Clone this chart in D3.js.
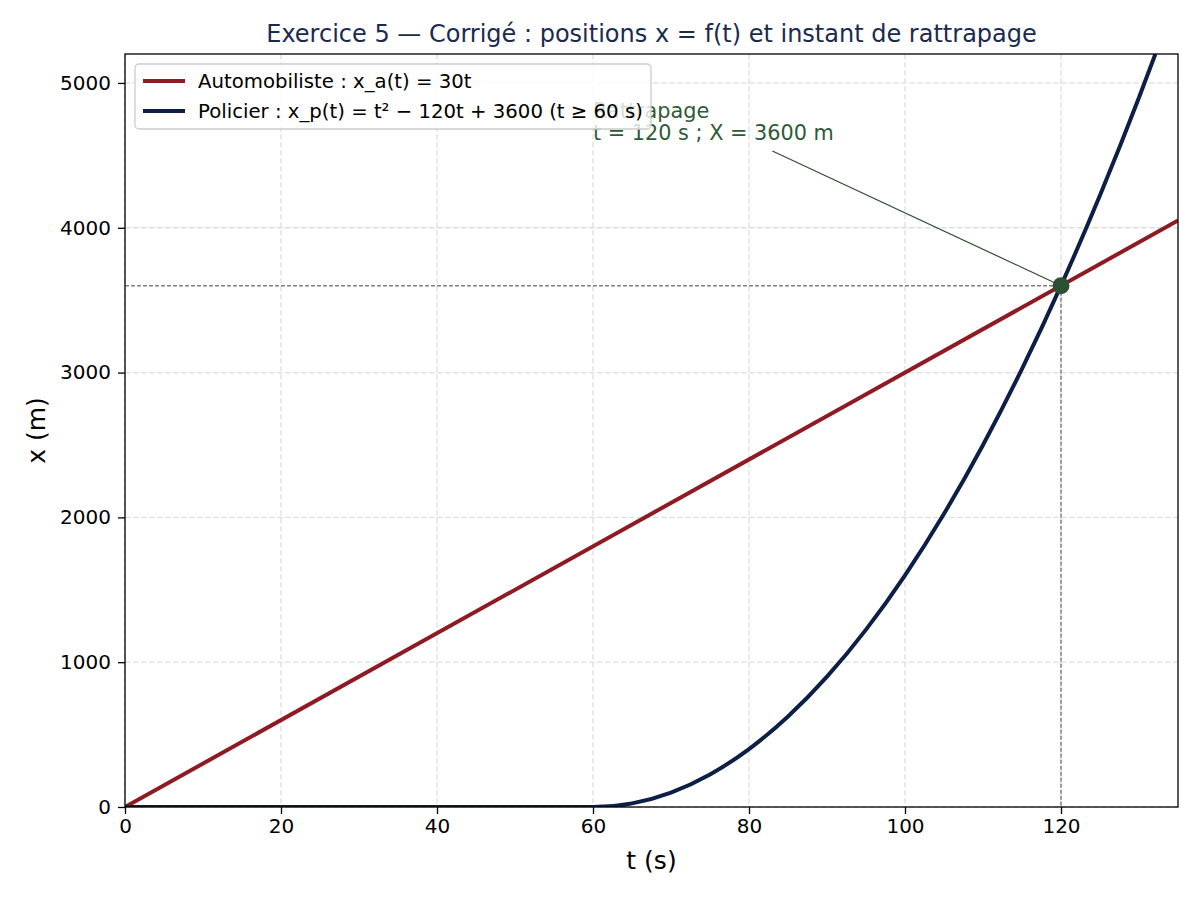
<!DOCTYPE html>
<html>
<head>
<meta charset="utf-8">
<script src="https://cdn.jsdelivr.net/npm/d3@7"></script>
<style>
  body { margin: 0; background: #fff; }
  text { font-family: "DejaVu Sans", sans-serif; }
</style>
</head>
<body>
<div id="chart"></div>
<script>
// Data
var tAuto = [0, 135];
var xAuto = [0, 4050];

var tPol = [0, 60, 65, 70, 75, 80, 85, 90, 95, 100, 105, 110, 115, 120, 125, 130, 132.1];
var xPol = [0, 0, 25, 100, 225, 400, 625, 900, 1225, 1600, 2025, 2500, 3025, 3600, 4225, 4900, 5200];

var xTicks = [0, 20, 40, 60, 80, 100, 120];
var yTicks = [0, 1000, 2000, 3000, 4000, 5000];

var catchT = 120, catchX = 3600;
var labelPos = [60, 4606];       // baseline of last annotation line
var arrowStart = [83, 4530];

var seriesNames = ["Automobiliste : x_a(t) = 30t",
                   "Policier : x_p(t) = t\u00b2 \u2212 120t + 3600 (t \u2265 60 s)"];
var colors = ["#8e1b24", "#0d1f45"];

// Layout
let margin = {top: 54, right: 22, bottom: 93, left: 125},
    width = 1200 - margin.left - margin.right,
    height = 900 - margin.top - margin.bottom;

let svgRoot = d3.select("#chart").append("svg")
    .attr("width", 1200)
    .attr("height", 900);

let svg = svgRoot.append("g")
    .attr("transform", "translate(" + margin.left + "," + margin.top + ")");

svg.append("defs").append("clipPath").attr("id", "clip")
    .append("rect").attr("width", width).attr("height", height);

let x = d3.scaleLinear().domain([0, 135]).range([0, width]);
let y = d3.scaleLinear().domain([0, 5200]).range([height, 0]);

// grid
svg.append("g").selectAll("line").data(xTicks).enter().append("line")
    .attr("x1", d => x(d)).attr("x2", d => x(d))
    .attr("y1", 0).attr("y2", height)
    .attr("stroke", "#dedede").attr("stroke-width", 1.3)
    .attr("stroke-dasharray", "5.5,2.5");
svg.append("g").selectAll("line").data(yTicks).enter().append("line")
    .attr("y1", d => y(d)).attr("y2", d => y(d))
    .attr("x1", 0).attr("x2", width)
    .attr("stroke", "#dedede").attr("stroke-width", 1.3)
    .attr("stroke-dasharray", "5.5,2.5");

// curves
let plot = svg.append("g").attr("clip-path", "url(#clip)");

let lineGen = d3.line()
    .x(d => x(d[0]))
    .y(d => y(d[1]))
    .curve(d3.curveMonotoneX);

plot.append("path")
    .datum(d3.zip(tAuto, xAuto))
    .attr("d", lineGen)
    .attr("fill", "none")
    .attr("stroke", colors[0])
    .attr("stroke-width", 4);

plot.append("path")
    .datum(d3.zip(tPol, xPol))
    .attr("d", lineGen)
    .attr("fill", "none")
    .attr("stroke", colors[1])
    .attr("stroke-width", 4);

// reference lines to the catch point
svg.append("line")
    .attr("x1", 0).attr("x2", x(catchT))
    .attr("y1", y(catchX)).attr("y2", y(catchX))
    .attr("stroke", "#808080").attr("stroke-width", 1.5)
    .attr("stroke-dasharray", "4,2");
svg.append("line")
    .attr("x1", x(catchT)).attr("x2", x(catchT))
    .attr("y1", y(catchX)).attr("y2", height)
    .attr("stroke", "#808080").attr("stroke-width", 1.5)
    .attr("stroke-dasharray", "4,2");

// annotation
svg.append("line")
    .attr("x1", x(arrowStart[0])).attr("y1", y(arrowStart[1]))
    .attr("x2", x(catchT)).attr("y2", y(catchX))
    .attr("stroke", "#2e4f31").attr("stroke-width", 1.2);

svg.append("circle")
    .attr("cx", x(catchT)).attr("cy", y(catchX))
    .attr("r", 8.5)
    .attr("fill", "#2d5032");

let ann = svg.append("text")
    .attr("x", x(labelPos[0]))
    .attr("y", y(labelPos[1]))
    .attr("fill", "#2e5a36")
    .attr("font-size", 20.8);
ann.append("tspan").attr("x", x(labelPos[0])).attr("dy", -22).text("Rattrapage");
ann.append("tspan").attr("x", x(labelPos[0])).attr("dy", 22)
    .text("t = " + catchT + " s ; X = " + catchX + " m");

// axes
let xAxis = d3.axisBottom(x).tickValues(xTicks).tickSize(7).tickPadding(5);
let yAxis = d3.axisLeft(y).tickValues(yTicks).tickFormat(d3.format("d")).tickSize(7).tickPadding(7);

let xg = svg.append("g")
    .attr("transform", "translate(0," + height + ")")
    .call(xAxis);
let yg = svg.append("g").call(yAxis);

[xg, yg].forEach(function(g) {
    g.select(".domain").remove();
    g.selectAll(".tick line").attr("stroke", "#000").attr("stroke-width", 1.3);
    g.selectAll(".tick text")
        .attr("fill", "#000")
        .attr("font-size", 20)
        .style("font-family", "DejaVu Sans, sans-serif");
});

svg.append("rect")
    .attr("width", width).attr("height", height)
    .attr("fill", "none")
    .attr("stroke", "#000").attr("stroke-width", 1.3);

// axis titles
svg.append("text")
    .attr("x", width / 2).attr("y", height + 62)
    .attr("text-anchor", "middle")
    .attr("font-size", 25)
    .text("t (s)");

svg.append("text")
    .attr("transform", "translate(" + (-80) + "," + (height / 2) + ") rotate(-90)")
    .attr("text-anchor", "middle")
    .attr("font-size", 25)
    .text("x (m)");

svgRoot.append("text")
    .attr("x", margin.left + width / 2).attr("y", 42)
    .attr("text-anchor", "middle")
    .attr("font-size", 24)
    .attr("fill", "#1b2a4e")
    .text("Exercice 5 \u2014 Corrig\u00e9 : positions x = f(t) et instant de rattrapage");

// legend
let legend = svg.append("g").attr("transform", "translate(10,10)");
legend.append("rect")
    .attr("width", 516).attr("height", 65)
    .attr("rx", 4).attr("ry", 4)
    .attr("fill", "rgba(255,255,255,0.8)")
    .attr("stroke", "#cccccc").attr("stroke-width", 1.3);

let items = legend.selectAll(".item").data(seriesNames).enter().append("g")
    .attr("class", "item")
    .attr("transform", (d, i) => "translate(0," + (17 + i * 30) + ")");
items.append("line")
    .attr("x1", 8).attr("x2", 50)
    .attr("stroke", (d, i) => colors[i]).attr("stroke-width", 4);
items.append("text")
    .attr("x", 63).attr("y", 7)
    .attr("font-size", 19.7)
    .attr("fill", "#000")
    .text(d => d);
</script>
</body>
</html>
